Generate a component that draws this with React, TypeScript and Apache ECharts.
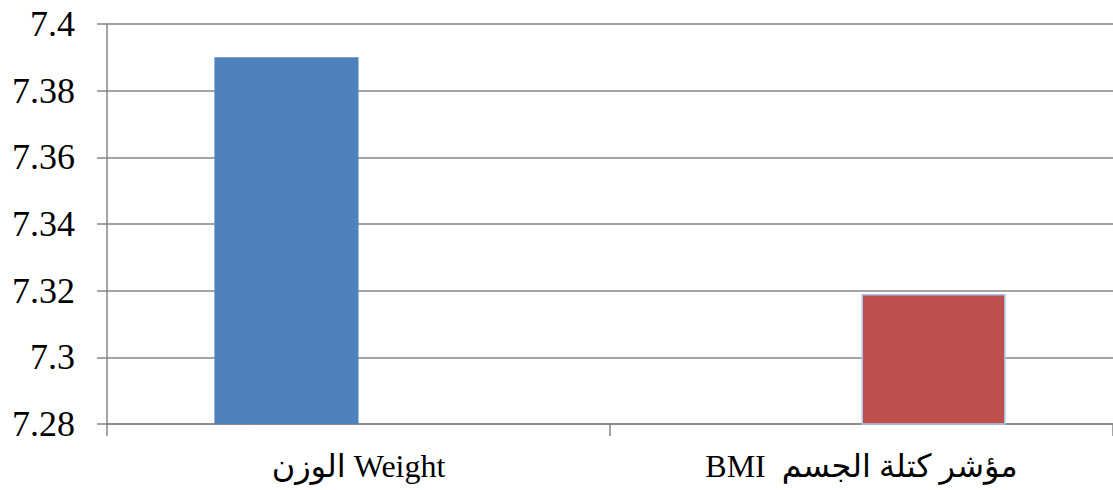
import React, { useEffect, useRef } from "react";
import * as echarts from "echarts";

const categories = ["الوزن Weight", "BMI  مؤشر كتلة الجسم"];
const weightValues: (number | string)[] = [7.39, "-"];
const bmiValues: (number | string)[] = ["-", 7.319];
const yMin = 7.28;
const yMax = 7.4;
const yInterval = 0.02;

export default function App() {
  const ref = useRef<HTMLDivElement>(null);
  useEffect(() => {
    document.body.style.margin = "0";
    const chart = echarts.init(ref.current!, null, { renderer: "svg" });
    const font = "'Liberation Serif', 'Times New Roman', 'DejaVu Sans', serif";
    chart.setOption({
      animation: false,
      backgroundColor: "#ffffff",
      grid: { left: 107, right: 0, top: 24, bottom: 66, containLabel: false },
      xAxis: {
        type: "category",
        data: categories,
        axisLine: { lineStyle: { color: "#868686", width: 1.5 } },
        axisTick: { show: true, length: 12, lineStyle: { color: "#868686", width: 1.5 } },
        axisLabel: { color: "#000", fontFamily: font, fontSize: 32, margin: 26 },
      },
      yAxis: {
        type: "value",
        min: yMin,
        max: yMax,
        interval: yInterval,
        axisLine: { show: true, lineStyle: { color: "#868686", width: 1.5 } },
        axisTick: { show: true, length: 10, lineStyle: { color: "#868686", width: 1.5 } },
        splitLine: { show: true, lineStyle: { color: "#868686", width: 1.5 } },
        axisLabel: {
          color: "#000",
          fontFamily: font,
          fontSize: 36,
          margin: 32,
          formatter: (v: number) => String(parseFloat(v.toFixed(4))),
        },
      },
      series: [
        {
          type: "bar",
          data: weightValues,
          barGap: "0%",
          barCategoryGap: "42.7%",
          itemStyle: { color: "#4F81BD" },
        },
        {
          type: "bar",
          data: bmiValues,
          itemStyle: { color: "#C0504D", borderColor: "#a9c4ec", borderWidth: 1.5 },
        },
      ],
    });
    return () => chart.dispose();
  }, []);
  return <div ref={ref} style={{ width: 1113, height: 490 }} />;
}
